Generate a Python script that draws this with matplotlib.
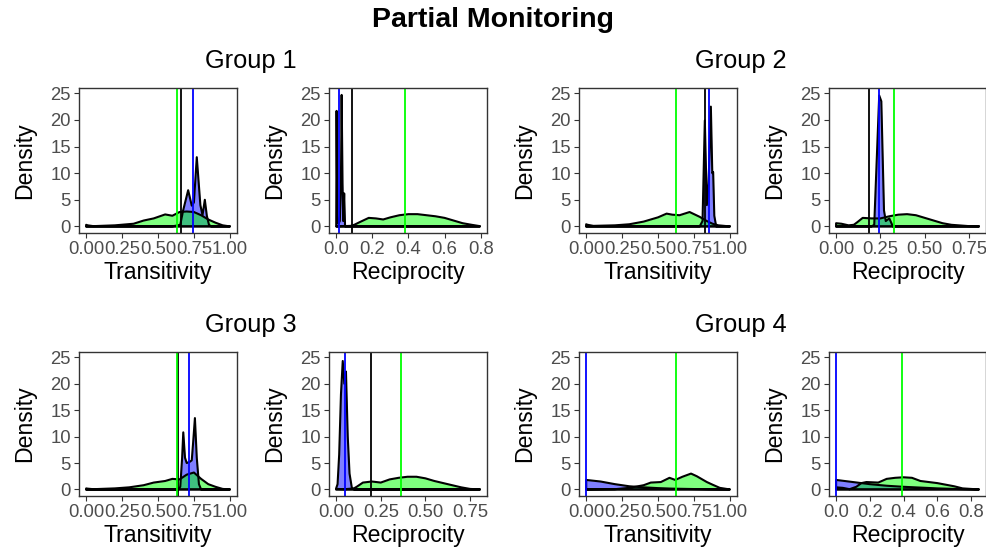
from matplotlib import pyplot as plt
import numpy as np

plt.rcParams['font.family'] = ['Liberation Sans', 'DejaVu Sans']

# Panel order: group 1 .. 4, each with a transitivity and a reciprocity panel.
groups = ['Group 1', 'Group 2', 'Group 3', 'Group 4']
measures = ['Transitivity', 'Reciprocity']

# Density curves (x, density) for the simulated networks (blue) and the
# reference distribution (green).
g1_trans_blue_x = [0, 0.60, 0.655, 0.675, 0.71, 0.735, 0.75, 0.77, 0.795, 0.81, 0.826, 0.84, 0.855, 0.87, 1.0]
g1_trans_blue_y = [0, 0, 0.3, 3.0, 6.8, 3.9, 4.5, 13.0, 4.0, 2.1, 5.0, 2.0, 0.3, 0, 0]
g1_trans_green_x = [0, 0.01, 0.05, 0.2, 0.33, 0.40, 0.47, 0.55, 0.60, 0.65, 0.70, 0.75, 0.80, 0.85, 0.90, 0.95, 1.0]
g1_trans_green_y = [0.3, 0.2, 0.05, 0.2, 0.5, 1.1, 1.5, 2.25, 2.0, 2.7, 2.8, 2.7, 2.1, 1.3, 0.7, 0.2, 0]

g1_recip_blue_x = [0, 0.002, 0.006, 0.012, 0.02, 0.026, 0.03, 0.035, 0.039, 0.044, 0.049, 0.06, 0.795]
g1_recip_blue_y = [0, 21.7, 2.0, 0.5, 1.0, 8.0, 24.7, 8.0, 1.0, 6.2, 0, 0, 0]
g1_recip_green_x = [0, 0.08, 0.10, 0.13, 0.18, 0.22, 0.26, 0.30, 0.35, 0.40, 0.45, 0.50, 0.55, 0.60, 0.65, 0.70, 0.75, 0.795]
g1_recip_green_y = [0, 0.1, 0.3, 0.8, 1.6, 1.5, 1.3, 1.7, 2.1, 2.3, 2.3, 2.1, 1.9, 1.6, 1.1, 0.6, 0.3, 0.05]

g2_trans_blue_x = [0, 0.79, 0.81, 0.826, 0.84, 0.852, 0.868, 0.878, 0.884, 0.892, 0.905, 1.0]
g2_trans_blue_y = [0, 0, 1.0, 19.9, 4.0, 8.0, 22.5, 10.0, 10.2, 2.0, 0, 0]
g2_trans_green_x = [0, 0.01, 0.05, 0.2, 0.30, 0.40, 0.50, 0.56, 0.60, 0.65, 0.72, 0.79, 0.84, 0.88, 0.92, 1.0]
g2_trans_green_y = [0.4, 0.3, 0.1, 0.2, 0.4, 0.9, 1.7, 2.4, 2.2, 2.1, 2.7, 1.8, 1.0, 0.5, 0.2, 0]

g2_recip_blue_x = [0, 0.20, 0.215, 0.243, 0.255, 0.27, 0.28, 0.30, 0.32, 0.805]
g2_recip_blue_y = [0, 0, 0.3, 24.6, 23.5, 3.0, 1.0, 1.5, 0, 0]
g2_recip_green_x = [0, 0.03, 0.07, 0.10, 0.12, 0.15, 0.20, 0.25, 0.30, 0.35, 0.40, 0.45, 0.50, 0.55, 0.60, 0.65, 0.75, 0.805]
g2_recip_green_y = [0.6, 0.5, 0.2, 0.3, 0.8, 1.6, 1.5, 1.5, 1.9, 2.2, 2.3, 2.1, 1.6, 1.1, 0.6, 0.3, 0.05, 0]

g3_trans_blue_x = [0, 0.64, 0.655, 0.668, 0.676, 0.688, 0.70, 0.72, 0.735, 0.745, 0.757, 0.77, 0.785, 0.80, 1.0]
g3_trans_blue_y = [0, 0, 0.5, 6.0, 10.8, 6.0, 5.0, 5.2, 5.5, 9.0, 13.5, 6.0, 1.0, 0, 0]
g3_trans_green_x = [0, 0.01, 0.05, 0.2, 0.30, 0.40, 0.47, 0.55, 0.60, 0.65, 0.70, 0.75, 0.80, 0.85, 0.90, 0.95, 1.0]
g3_trans_green_y = [0.2, 0.15, 0.05, 0.2, 0.4, 0.8, 1.3, 1.6, 2.0, 1.9, 2.8, 3.2, 2.0, 1.0, 0.5, 0.1, 0]

g3_recip_blue_x = [0, 0.008, 0.017, 0.027, 0.037, 0.046, 0.055, 0.065, 0.075, 0.088, 0.10, 0.805]
g3_recip_blue_y = [0.2, 1.0, 6.6, 18.0, 24.3, 20.0, 22.3, 10.0, 3.0, 0.3, 0, 0]
g3_recip_green_x = [0, 0.05, 0.10, 0.115, 0.15, 0.20, 0.25, 0.30, 0.35, 0.40, 0.45, 0.50, 0.55, 0.60, 0.65, 0.70, 0.75, 0.805]
g3_recip_green_y = [0.1, 0.05, 0.2, 0.5, 1.3, 1.5, 1.3, 1.9, 2.2, 2.4, 2.4, 2.1, 1.6, 1.2, 0.8, 0.4, 0.1, 0]

g4_trans_blue_x = [0, 0.10, 0.20, 0.30, 0.40, 0.50, 0.60, 0.70, 0.85, 1.0]
g4_trans_blue_y = [1.8, 1.5, 1.0, 0.6, 0.4, 0.25, 0.15, 0.1, 0.03, 0]
g4_trans_green_x = [0, 0.20, 0.30, 0.40, 0.45, 0.52, 0.58, 0.62, 0.67, 0.73, 0.77, 0.84, 0.88, 0.93, 1.0]
g4_trans_green_y = [0, 0.05, 0.3, 0.8, 1.3, 1.4, 2.2, 1.8, 2.4, 3.0, 2.5, 1.4, 0.9, 0.3, 0]

g4_recip_blue_x = [0, 0.05, 0.10, 0.20, 0.30, 0.40, 0.50, 0.60, 0.70, 0.847]
g4_recip_blue_y = [1.8, 1.6, 1.4, 1.0, 0.7, 0.5, 0.35, 0.2, 0.1, 0]
g4_recip_green_x = [0, 0.04, 0.08, 0.12, 0.15, 0.18, 0.25, 0.30, 0.35, 0.40, 0.45, 0.50, 0.60, 0.70, 0.75, 0.847]
g4_recip_green_y = [0.4, 0.3, 0.05, 0.5, 1.2, 1.4, 1.3, 2.0, 2.2, 2.3, 2.2, 1.6, 1.2, 0.6, 0.2, 0]

# Vertical reference lines for every panel (NaN where none is drawn).
green_line = [0.63, 0.38, 0.625, 0.327, 0.634, 0.364, 0.625, 0.39]
black_line = [0.658, 0.088, 0.826, 0.187, 0.64, 0.196, np.nan, np.nan]
blue_line = [0.745, 0.017, 0.852, 0.241, 0.715, 0.047, 0.002, 0.0]

# Axis ranges and ticks for each panel.
x_limits = [(-0.05, 1.05), (-0.04, 0.835), (-0.05, 1.05), (-0.04, 0.845),
            (-0.05, 1.05), (-0.04, 0.845), (-0.05, 1.05), (-0.042, 0.889)]
trans_ticks = [0, 0.25, 0.5, 0.75, 1.0]
trans_labels = ['0.00', '0.25', '0.50', '0.75', '1.00']
recip_ticks_a = [0, 0.2, 0.4, 0.6, 0.8]
recip_labels_a = ['0.0', '0.2', '0.4', '0.6', '0.8']
recip_ticks_b = [0, 0.25, 0.5, 0.75]
recip_labels_b = ['0.00', '0.25', '0.50', '0.75']
y_ticks = [0, 5, 10, 15, 20, 25]

curves = [
    (g1_trans_blue_x, g1_trans_blue_y, g1_trans_green_x, g1_trans_green_y),
    (g1_recip_blue_x, g1_recip_blue_y, g1_recip_green_x, g1_recip_green_y),
    (g2_trans_blue_x, g2_trans_blue_y, g2_trans_green_x, g2_trans_green_y),
    (g2_recip_blue_x, g2_recip_blue_y, g2_recip_green_x, g2_recip_green_y),
    (g3_trans_blue_x, g3_trans_blue_y, g3_trans_green_x, g3_trans_green_y),
    (g3_recip_blue_x, g3_recip_blue_y, g3_recip_green_x, g3_recip_green_y),
    (g4_trans_blue_x, g4_trans_blue_y, g4_trans_green_x, g4_trans_green_y),
    (g4_recip_blue_x, g4_recip_blue_y, g4_recip_green_x, g4_recip_green_y),
]
x_ticks = [(trans_ticks, trans_labels), (recip_ticks_a, recip_labels_a),
           (trans_ticks, trans_labels), (recip_ticks_b, recip_labels_b),
           (trans_ticks, trans_labels), (recip_ticks_b, recip_labels_b),
           (trans_ticks, trans_labels), (recip_ticks_a, recip_labels_a)]

W, H = 987, 557
fig = plt.figure(figsize = (W / 100, H / 100), dpi = 100)

# Pixel boxes of the panel columns and rows.
columns = [(79, 237), (329, 487), (579, 737), (829, 986)]
rows = [(88, 233), (352, 496)]

def rect(left, top, right, bottom):
    return [left / W, 1 - bottom / H, (right - left) / W, (bottom - top) / H]

for i in range(8):
    group = i // 2
    row = rows[group // 2]
    col = columns[(group % 2) * 2 + i % 2]
    ax = fig.add_axes(rect(col[0], row[0], col[1], row[1]))

    bx, by, gx, gy = curves[i]
    ax.fill_between(bx, by, color = 'blue', alpha = 0.5, linewidth = 0)
    ax.fill_between(gx, gy, color = 'lime', alpha = 0.5, linewidth = 0)
    ax.fill_between(bx, by, facecolor = 'none', edgecolor = 'black', linewidth = 1.5)
    ax.fill_between(gx, gy, facecolor = 'none', edgecolor = 'black', linewidth = 1.5)

    if not np.isnan(black_line[i]):
        ax.axvline(black_line[i], color = 'black', linewidth = 1.3)
    ax.axvline(green_line[i], color = 'lime', linewidth = 1.3)
    ax.axvline(blue_line[i], color = 'blue', linewidth = 1.3)

    ax.set_xlim(*x_limits[i])
    ax.set_ylim(-1.24, 26.0)
    ax.set_xticks(x_ticks[i][0], x_ticks[i][1])
    ax.set_yticks(y_ticks)
    ax.tick_params(length = 3.6, width = 0.8, color = '#333333',
                   labelcolor = '#4D4D4D', labelsize = 13.3, pad = 2.2)
    for spine in ax.spines.values():
        spine.set_color('#333333')
        spine.set_linewidth(1.0)
    ax.set_xlabel(measures[i % 2], fontsize = 16.6, labelpad = 2)
    ax.set_ylabel('Density', fontsize = 16.6, labelpad = 10)

# Group headings and overall title.
heading_x = [251, 741]
heading_y = [68, 332]
for g, name in enumerate(groups):
    fig.text(heading_x[g % 2] / W, 1 - heading_y[g // 2] / H, name,
             fontsize = 18.3, ha = 'center', va = 'baseline')
fig.text(493 / W, 1 - 27 / H, 'Partial Monitoring', fontsize = 20.5,
         fontweight = 'bold', ha = 'center', va = 'baseline')

plt.savefig('out.png', dpi = 100)
